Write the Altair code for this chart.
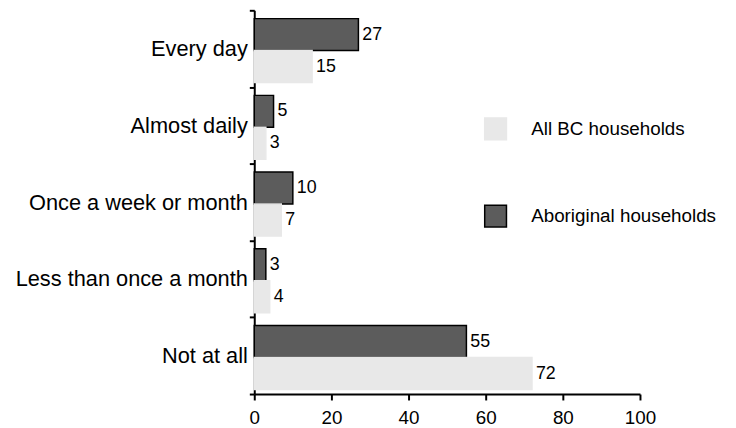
import altair as alt
import pandas as pd

categories = ["Every day", "Almost daily", "Once a week or month",
              "Less than once a month", "Not at all"]
series_names = ["Aboriginal households", "All BC households"]
aboriginal = [27, 5, 10, 3, 55]
all_bc = [15, 3, 7, 4, 72]
x_ticks = [0, 20, 40, 60, 80, 100]

rows = []
for c, a, b in zip(categories, aboriginal, all_bc):
    rows.append({"category": c, "series": series_names[0], "value": a})
    rows.append({"category": c, "series": series_names[1], "value": b})
df = pd.DataFrame(rows)

FONT = "Liberation Sans"
legend_order = [series_names[1], series_names[0]]

def make_legend():
    return alt.Legend(title=None, orient="none", legendX=232, legendY=108,
                      symbolType="square", symbolSize=484,
                      rowPadding=60, labelOffset=24, labelLimit=0,
                      labelFontSize=19, labelFont=FONT,
                      labelColor="black", symbolStrokeWidth=1.5,
                      padding=0)

base = alt.Chart(df).encode(
    y=alt.Y("category:N", sort=categories,
            scale=alt.Scale(paddingInner=0, paddingOuter=0),
            axis=alt.Axis(title=None, tickBand="extent", labelFontSize=22,
                          labelLimit=0, tickSize=5, labelPadding=2)),
    yOffset=alt.YOffset("series:N", sort=series_names,
                        scale=alt.Scale(paddingOuter=0.2, align=0.65)),
    x=alt.X("value:Q", scale=alt.Scale(domain=[0, 100], nice=False),
            axis=alt.Axis(title=None, values=x_ticks, grid=False, labelFlush=False,
                          labelFontSize=19, tickSize=6, labelPadding=9)),
)

bars = base.mark_bar(strokeWidth=1.5).encode(
    color=alt.Color("series:N",
                    scale=alt.Scale(domain=legend_order, range=["#e8e8e8", "#5c5c5c"]),
                    legend=make_legend()),
    stroke=alt.Stroke("series:N",
                      scale=alt.Scale(domain=legend_order, range=["#e8e8e8", "#000000"]),
                      legend=make_legend()),
)

labels = base.mark_text(align="left", baseline="middle", dx=4, fontSize=18,
                        font=FONT, color="black").encode(text="value:Q")

chart = (bars + labels).properties(
    width=390, height=388,
    autosize=alt.AutoSizeParams(type="none"),
    padding={"left": 249, "top": 0, "right": 89, "bottom": 32},
).configure_view(stroke=None).configure_axis(
    domainColor="black", domainWidth=2, tickColor="black", tickWidth=2,
    labelColor="black", labelFont=FONT,
)

chart.save("out.html", embed_options={"renderer": "svg", "actions": False})
